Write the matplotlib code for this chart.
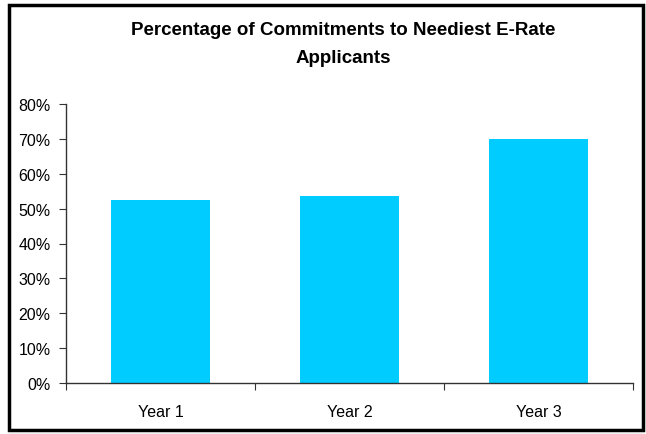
import matplotlib
matplotlib.use("Agg")
import matplotlib.pyplot as plt
from matplotlib.patches import Rectangle
from matplotlib.ticker import PercentFormatter

categories = ["Year 1", "Year 2", "Year 3"]
values = [0.525, 0.536, 0.70]
title = "Percentage of Commitments to Neediest E-Rate\nApplicants"

plt.rcParams['font.family'] = ['Liberation Sans', 'DejaVu Sans']

fig = plt.figure(figsize=(6.46, 4.35), dpi=100)
ax = fig.add_axes([66/646, 1-384/435, (633-66)/646, (384-105)/435])

x = range(len(categories))
ax.bar(x, values, width=0.52, color="#00CCFF", edgecolor="none")
ax.set_xlim(-0.5, len(categories)-0.5)
ax.set_ylim(0, 0.8)
ax.set_yticks([i/10 for i in range(9)])
ax.yaxis.set_major_formatter(PercentFormatter(1.0, decimals=0))
ax.set_xticks([i-0.5 for i in range(len(categories)+1)], minor=False)
ax.set_xticklabels([])
ax.set_xticks(list(x), minor=True)
ax.set_xticklabels(categories, minor=True, fontsize=11.5)
ax.tick_params(axis='x', which='minor', length=0, pad=15)
ax.tick_params(axis='x', which='major', length=5, direction='out', color='#333333')
ax.tick_params(axis='y', length=5, direction='out', color='#333333', labelsize=11.5, pad=6)
for s in ['top', 'right']:
    ax.spines[s].set_visible(False)
for s in ['left', 'bottom']:
    ax.spines[s].set_color('#333333')
    ax.spines[s].set_linewidth(1.0)

fig.text(343/646, 1-44.5/435, title, ha='center', va='center', fontsize=13.5,
         fontweight='bold', linespacing=1.9)

fig.patches.append(Rectangle((9/646, 1-431/435), (643-9)/646, (431-6)/435,
                             transform=fig.transFigure, fill=False,
                             edgecolor='black', linewidth=2.5))
fig.add_artist(plt.Line2D([9/646, 643/646], [1-434.5/435, 1-434.5/435],
                          transform=fig.transFigure, color='#bbbbbb', linewidth=1))

fig.savefig("out.png", dpi=100)
